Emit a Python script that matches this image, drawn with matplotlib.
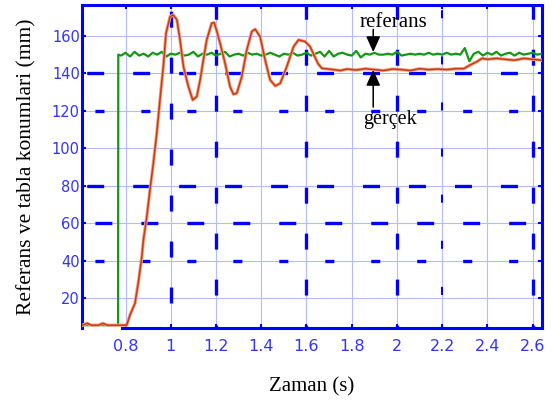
import matplotlib
matplotlib.use("Agg")
import matplotlib.pyplot as plt
import matplotlib.patheffects as pe

plt.rcParams["lines.scale_dashes"] = False

# --------------------------------------------------
# Data
# --------------------------------------------------
ref_t = [0.61, 0.767, 0.768,
         0.78, 0.80, 0.82, 0.84, 0.86, 0.88, 0.90, 0.92, 0.94, 0.96,
         0.98, 1.00, 1.02, 1.04, 1.06, 1.08, 1.10, 1.12, 1.14, 1.16,
         1.18, 1.20, 1.22, 1.24, 1.26, 1.28, 1.30, 1.32, 1.34, 1.36,
         1.38, 1.40, 1.42, 1.44, 1.46, 1.48, 1.50, 1.52, 1.54, 1.56,
         1.58, 1.60, 1.62, 1.64, 1.66, 1.68, 1.70, 1.72, 1.74, 1.76,
         1.78, 1.80, 1.82, 1.84, 1.86, 1.88, 1.90, 1.92, 1.94, 1.96,
         1.98, 2.00, 2.02, 2.04, 2.06, 2.08, 2.10, 2.12, 2.14, 2.16,
         2.18, 2.20, 2.22, 2.24, 2.26, 2.28, 2.30, 2.32, 2.34, 2.36,
         2.38, 2.40, 2.42, 2.44, 2.46, 2.48, 2.50, 2.52, 2.54, 2.56,
         2.58, 2.60, 2.62, 2.64]
ref_y = [5.5, 5.5, 150.0,
         149.5, 151.0, 149.0, 151.5, 149.5, 150.5, 149.0, 151.0, 150.0, 151.5,
         149.0, 150.5, 150.0, 151.0, 149.5, 150.0, 151.5, 149.0, 150.5, 150.0,
         151.0, 149.5, 150.5, 151.5, 149.0, 150.0, 150.5, 149.5, 151.0, 150.0,
         150.5, 149.5, 150.0, 151.0, 150.0, 149.0, 150.5, 150.0, 151.0, 149.5,
         150.0, 151.0, 149.5, 150.5, 151.5, 149.0, 152.0, 149.0, 150.5, 151.0,
         150.0, 149.5, 152.0, 148.5, 150.5, 150.0, 151.0, 150.0, 150.0, 150.5,
         150.0, 151.5, 149.5, 150.0, 150.5, 150.0, 150.5, 150.0, 151.0, 150.0,
         150.5, 150.0, 151.0, 150.0, 150.5, 150.0, 153.5, 146.5, 150.5, 151.5,
         149.5, 151.0, 150.0, 151.5, 149.5, 150.5, 151.0, 149.5, 151.0, 150.0,
         150.5, 151.0, 150.0, 150.5]

act_t = [0.61, 0.63, 0.65, 0.68, 0.70, 0.72, 0.76, 0.798,
         0.805, 0.82, 0.842, 0.857, 0.872, 0.879, 0.894, 0.908, 0.923, 0.938,
         0.953, 0.967, 0.979, 0.997, 1.011, 1.027, 1.041, 1.056, 1.078, 1.097,
         1.115, 1.130, 1.144, 1.159, 1.181, 1.192, 1.204, 1.218, 1.240, 1.262,
         1.277, 1.292, 1.314, 1.336, 1.358, 1.373, 1.395, 1.417, 1.439, 1.462,
         1.484, 1.513, 1.543, 1.565, 1.594, 1.616, 1.634, 1.652, 1.668, 1.705,
         1.75, 1.78, 1.82, 1.86, 1.90, 1.94, 1.98, 2.02, 2.06, 2.10,
         2.14, 2.18, 2.22, 2.26, 2.295, 2.324, 2.354, 2.376, 2.40, 2.44,
         2.48, 2.52, 2.56, 2.60, 2.64]
act_y = [5.5, 6.5, 5.5, 5.5, 6.5, 5.5, 5.5, 5.5,
         5.5, 11.0, 17.3, 28.7, 42.0, 51.0, 63.4, 77.7, 92.0, 108.0,
         126.7, 143.6, 161.4, 170.3, 171.2, 168.6, 157.9, 143.6, 132.9, 125.8,
         127.6, 136.5, 147.2, 157.9, 166.8, 167.1, 162.3, 156.1, 145.4, 132.9,
         128.8, 129.4, 138.2, 152.5, 162.3, 163.6, 159.6, 147.2, 136.5, 133.3,
         134.7, 143.6, 154.3, 157.9, 157.0, 154.3, 149.5, 145.0, 142.7, 142.2,
         141.5, 142.3, 141.8, 142.5, 142.0, 141.5, 142.3, 142.0, 141.5, 142.5,
         142.0, 142.3, 142.0, 142.5, 142.5, 144.5, 146.3, 148.0, 147.5, 148.0,
         147.5, 147.0, 148.0, 147.5, 147.0]

x_ticks = [0.8, 1.0, 1.2, 1.4, 1.6, 1.8, 2.0, 2.2, 2.4, 2.6]
x_tick_labels = ["0.8", "1", "1.2", "1.4", "1.6", "1.8", "2", "2.2", "2.4", "2.6"]
y_ticks = [20, 40, 60, 80, 100, 120, 140, 160]

BLUE = "#0000ff"
TICK_BLUE = "#3333ff"
SERIF = ["Liberation Serif", "DejaVu Serif"]

fig = plt.figure(figsize=(5.6, 4.05), dpi=100)
ax = fig.add_axes([0.1464, 0.1901, 0.8214, 0.7975])
ax.set_xlim(0.6075, 2.641)
ax.set_ylim(4.0, 176.5)

# thin grid
ax.set_xticks(x_ticks)
ax.set_xticklabels(x_tick_labels)
ax.set_yticks(y_ticks)
ax.grid(True, color="#b4baff", linewidth=0.8, zorder=0)
ax.set_axisbelow(True)

# thick dashed grid overlay (offset, (on, off)) in points
h_dashes = {140: (29.7, (12.2, 20.9)), 120: (23.8, (6.5, 26.6)),
            80: (29.7, (12.2, 20.9)), 60: (23.8, (12.2, 20.9)),
            40: (23.8, (6.5, 26.6))}
for yv, dash in h_dashes.items():
    ax.axhline(yv, color=BLUE, linewidth=2.4, linestyle=dash,
               dash_capstyle="butt", zorder=1)

v_dashes = {1.0: ((15.1, (11.5, 21.6)), 2.4), 1.2: ((9.4, (11.5, 21.6)), 2.4),
            1.6: ((9.4, (11.5, 21.6)), 2.4), 2.0: ((9.4, (11.5, 21.6)), 2.4),
            2.2: ((9.4, (5.8, 27.4)), 1.5), 2.6: ((9.4, (11.5, 21.6)), 2.4)}
for xv, (dash, lw) in v_dashes.items():
    ax.axvline(xv, color=BLUE, linewidth=lw, linestyle=dash,
               dash_capstyle="butt", zorder=1)

# series
ax.plot(ref_t, ref_y, color="#119911", linewidth=1.6, zorder=3)
ax.plot(act_t, act_y, color="#cc3a0c", linewidth=1.1, zorder=4,
        path_effects=[pe.Stroke(linewidth=2.4, foreground="#eea58c"), pe.Normal()])

# frame
for side in ["left", "right", "top", "bottom"]:
    ax.spines[side].set_color(BLUE)
    ax.spines[side].set_linewidth(2.2)
ax.spines["bottom"].set_bounds(0.785, 2.641)
ax.tick_params(axis="both", direction="in", length=3, width=1.5, color=BLUE,
               top=True, right=True, labelcolor=TICK_BLUE)
ax.tick_params(axis="x", pad=8, labelsize=11.5)
ax.tick_params(axis="y", pad=1.5, labelsize=10.5)

ax.set_xlabel("Zaman (s)", family=SERIF, fontsize=15, labelpad=17)
ax.set_ylabel("Referans ve tabla konumlari (mm)", family=SERIF, fontsize=15.5, labelpad=11)

# annotations
arrow = dict(arrowstyle="-|>,head_length=0.95,head_width=0.43", mutation_scale=10,
             color="black", lw=1.1, shrinkA=0, shrinkB=0)
ax.annotate("", xy=(1.895, 151.4), xytext=(1.895, 163.5), arrowprops=arrow, zorder=6)
ax.annotate("", xy=(1.895, 141.8), xytext=(1.895, 122.0), arrowprops=arrow, zorder=6)
ax.text(1.984, 166.9, "referans", family=SERIF, fontsize=15, ha="center", va="center", zorder=6)
ax.text(1.970, 115.1, "gerçek", family=SERIF, fontsize=14.5, ha="center", va="center", zorder=6)

fig.savefig("out.png", dpi=100)
